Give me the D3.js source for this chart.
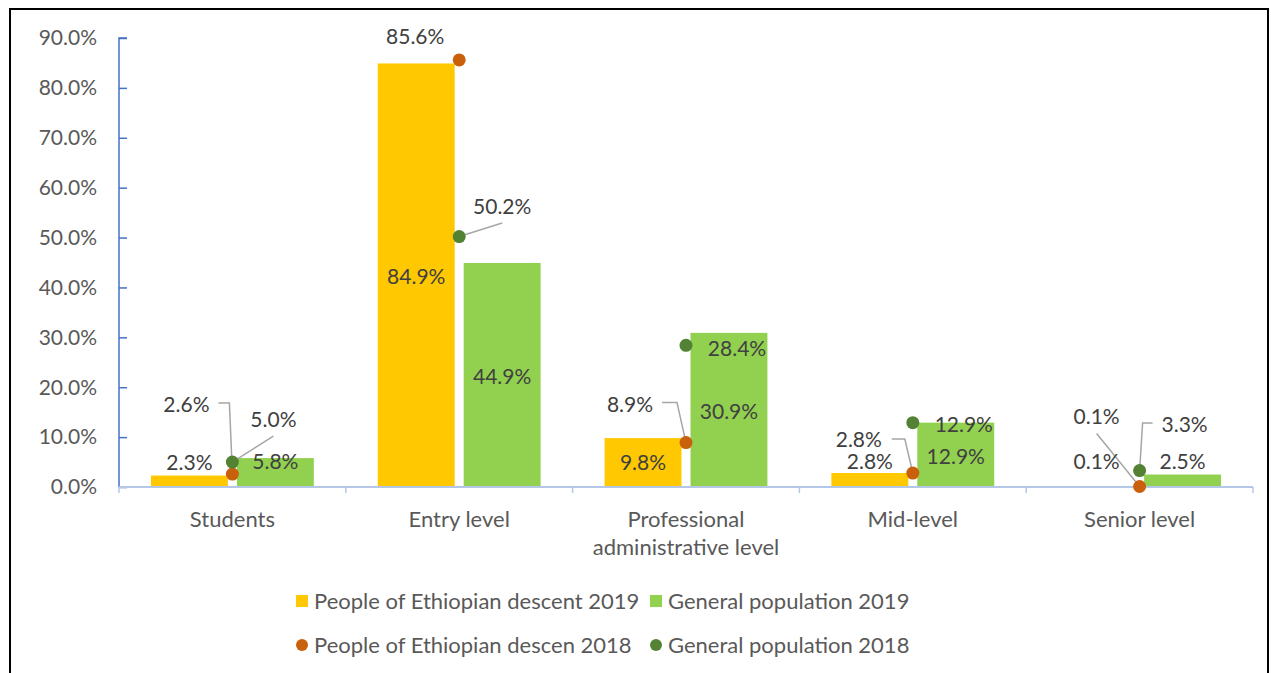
<!DOCTYPE html>
<html>
<head>
<meta charset="utf-8">
<script src="https://cdn.jsdelivr.net/npm/d3@7"></script>
<style>
  body { margin: 0; background: #fff; }
  svg { display: block; }
  text { font-family: Lato, "Noto Sans", sans-serif; }
</style>
</head>
<body>
<svg width="1271" height="673"></svg>
<script>
// chart data
const categories = ["Students", "Entry level", "Professional\nadministrative level", "Mid-level", "Senior level"];
const ethiopian2019 = [2.3, 84.9, 9.8, 2.8, 0.1];
const general2019 = [5.8, 44.9, 30.9, 12.9, 2.5];
const ethiopian2018 = [2.6, 85.6, 8.9, 2.8, 0.1];
const general2018 = [5.0, 50.2, 28.4, 12.9, 3.3];
const yTicks = [0, 10, 20, 30, 40, 50, 60, 70, 80, 90];
const seriesNames = ["People of Ethiopian descent 2019", "General population 2019",
                     "People of Ethiopian descen 2018", "General population 2018"];
const colors = ["#FFC800", "#92D050", "#C8600C", "#548235"];

// manual label placement (pixel offsets from the mark, like the hand-moved labels in the original)
const barLabelDy = [[-13, 213, 25, -11, -25], [4, 114, 79, 34, -13]];
const dotLabelOffset = [
  [[-46, -69], [-44, -23], [-56, -38], [-54, -33], [-43, -70]],
  [[41, -42], [43, -30], [51, 3], [51, 2], [45, -46]]
];
const leaders = [
  [[[-14, -71], [-3, -71]], null, [[-24, -40], [-9, -40]], [[-21, -34], [-8, -34]], [[-43, -53]]],
  [[[41, -26]], [[43, -13.5]], null, null, [[13, -47.5], [3, -47.5]]]
];

const numSize = 21, wordSize = 22;
const svg = d3.select("svg");

// outer frame
svg.append("path")
  .attr("d", "M10,700 L10,9 L1268,9 L1268,700")
  .attr("fill", "none").attr("stroke", "#000").attr("stroke-width", 2);

const x = d3.scaleBand().domain(d3.range(categories.length)).range([119, 1253]).padding(0);
const xSub = d3.scaleBand().domain([0, 1]).range([0, x.bandwidth()]).paddingInner(0.105).paddingOuter(0.372);
const y = d3.scaleLinear().domain([0, 90]).range([487, 38]);
const fmt = v => v.toFixed(1) + "%";

// y axis
const yAxis = svg.append("g").attr("transform", "translate(119,0)")
  .call(d3.axisRight(y).tickValues(yTicks).tickSize(8).tickFormat(""));
yAxis.selectAll("path, line").attr("stroke", "#4472C4").attr("stroke-width", 1.5);
yAxis.select(".domain").attr("d", "M8," + y(90) + "H0V" + y(0));
svg.append("g").selectAll("text").data(yTicks).join("text")
  .attr("x", 97).attr("y", d => y(d)).attr("dy", "0.35em")
  .attr("text-anchor", "end").attr("font-size", numSize).attr("fill", "#595959")
  .text(d => fmt(d));

// bars
const barSeries = [ethiopian2019, general2019];
barSeries.forEach((vals, s) => {
  svg.append("g").selectAll("rect").data(vals).join("rect")
    .attr("x", (d, i) => x(i) + xSub(s))
    .attr("width", xSub.bandwidth())
    .attr("y", d => y(d))
    .attr("height", d => y(0) - y(d))
    .attr("fill", colors[s]);
});

// x axis
svg.append("line").attr("x1", 119).attr("x2", 1253).attr("y1", y(0)).attr("y2", y(0))
  .attr("stroke", "#B4C7E7").attr("stroke-width", 2);
svg.append("g").selectAll("line").data(d3.range(categories.length + 1)).join("line")
  .attr("x1", i => 119 + i * x.step()).attr("x2", i => 119 + i * x.step())
  .attr("y1", y(0)).attr("y2", y(0) + 6)
  .attr("stroke", "#B4C7E7").attr("stroke-width", 1.5);

// category labels
svg.append("g").selectAll("text").data(categories).join("text")
  .attr("x", (d, i) => x(i) + x.bandwidth() / 2)
  .attr("y", 519).attr("text-anchor", "middle").attr("font-size", wordSize).attr("fill", "#595959")
  .each(function (d) {
    d3.select(this).selectAll("tspan").data(d.split("\n")).join("tspan")
      .attr("x", d3.select(this).attr("x"))
      .attr("dy", (t, j) => j === 0 ? "0.35em" : 28)
      .text(t => t);
  });

// leader lines
const dotSeries = [ethiopian2018, general2018];
const cx = i => x(i) + x.bandwidth() / 2;
dotSeries.forEach((vals, s) => {
  vals.forEach((v, i) => {
    const pts = leaders[s][i];
    if (!pts) return;
    const px = cx(i), py = y(v);
    const line = d3.line()(pts.map(p => [px + p[0], py + p[1]]).concat([[px, py]]));
    svg.append("path").attr("d", line).attr("fill", "none")
      .attr("stroke", "#A6A6A6").attr("stroke-width", 1.5);
  });
});

// dots
dotSeries.forEach((vals, s) => {
  svg.append("g").selectAll("circle").data(vals).join("circle")
    .attr("cx", (d, i) => cx(i)).attr("cy", d => y(d)).attr("r", 6.5)
    .attr("fill", colors[s + 2]);
});

// bar labels
barSeries.forEach((vals, s) => {
  svg.append("g").selectAll("text").data(vals).join("text")
    .attr("x", (d, i) => x(i) + xSub(s) + xSub.bandwidth() / 2)
    .attr("y", (d, i) => y(d) + barLabelDy[s][i]).attr("dy", "0.35em")
    .attr("text-anchor", "middle").attr("font-size", numSize).attr("fill", "#404040")
    .text(d => fmt(d));
});

// dot labels
dotSeries.forEach((vals, s) => {
  svg.append("g").selectAll("text").data(vals).join("text")
    .attr("x", (d, i) => cx(i) + dotLabelOffset[s][i][0])
    .attr("y", (d, i) => y(d) + dotLabelOffset[s][i][1]).attr("dy", "0.35em")
    .attr("text-anchor", "middle").attr("font-size", numSize).attr("fill", "#404040")
    .text(d => fmt(d));
});

// legend
const legendPos = [[302, 601], [656, 601], [302, 645], [656, 645]];
seriesNames.forEach((name, k) => {
  const [lx, ly] = legendPos[k];
  if (k < 2) {
    svg.append("rect").attr("x", lx - 6).attr("y", ly - 6).attr("width", 12).attr("height", 12)
      .attr("fill", colors[k]);
  } else {
    svg.append("circle").attr("cx", lx).attr("cy", ly).attr("r", 6).attr("fill", colors[k]);
  }
  svg.append("text").attr("x", lx + 12).attr("y", ly).attr("dy", "0.35em")
    .attr("font-size", wordSize).attr("fill", "#595959").text(name);
});
</script>
</body>
</html>
